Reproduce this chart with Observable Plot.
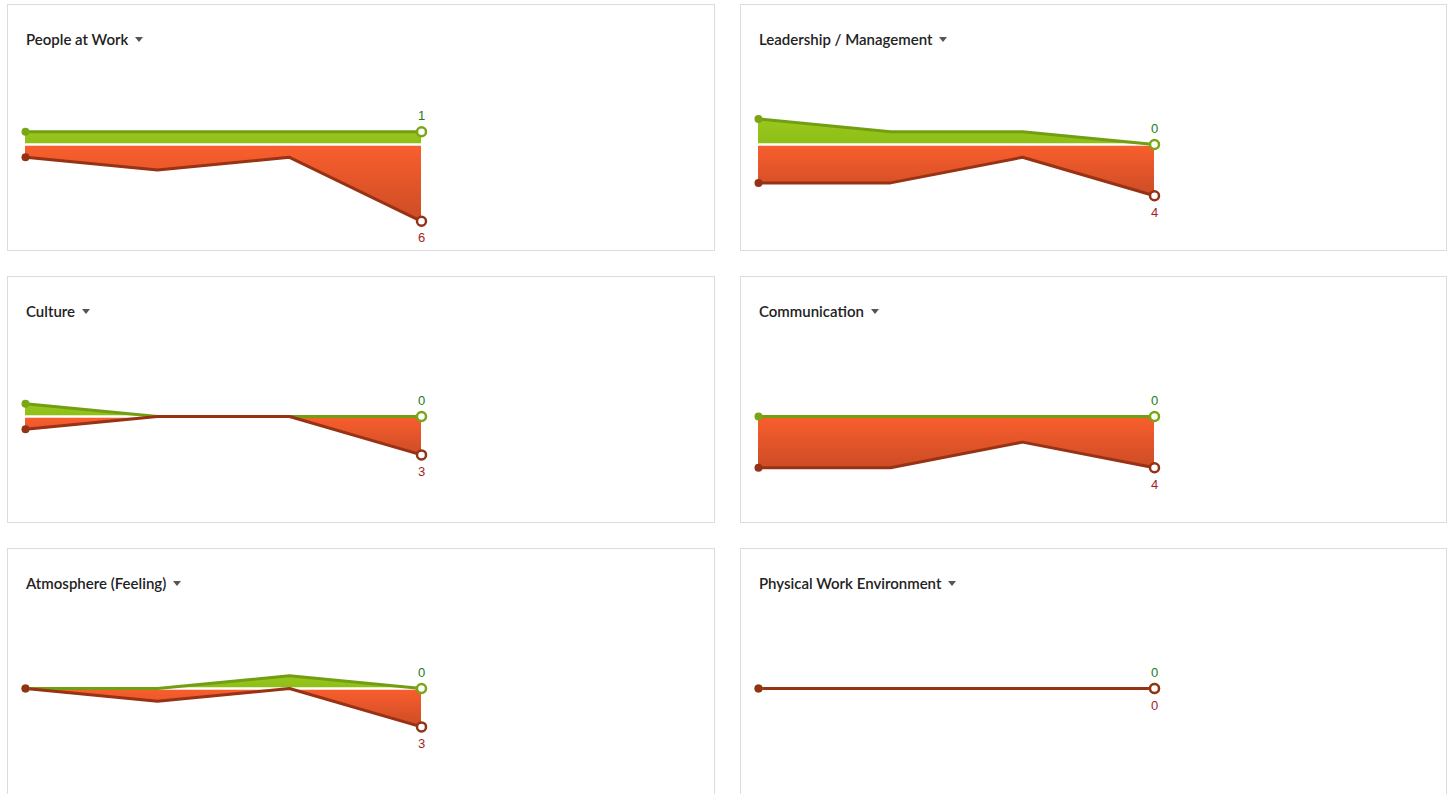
<!DOCTYPE html>
<html>
<head>
<meta charset="utf-8">
<script src="https://cdn.jsdelivr.net/npm/d3@7"></script>
<script src="https://cdn.jsdelivr.net/npm/@observablehq/plot@0.6"></script>
<style>
  html, body { margin: 0; padding: 0; background: #fff; }
  body { font-family: Lato, "Open Sans", sans-serif; }
  #page { position: relative; width: 1453px; height: 794px; overflow: hidden; }
  .panel { position: absolute; box-sizing: border-box; border: 1px solid #dcdcdc; background: #fff; height: 247px; overflow: hidden; }
  .title { position: absolute; left: 18px; top: 25px; line-height: 18px; font-size: 15px; font-weight: 600; color: #222; white-space: nowrap; }
  .caret { display: inline-block; width: 0; height: 0; border-left: 4.5px solid transparent; border-right: 4.5px solid transparent; border-top: 5px solid #555; margin-left: 7px; vertical-align: 3px; }
  .chart { position: absolute; left: 0; top: 60px; }
</style>
</head>
<body>
<svg width="0" height="0" style="position:absolute">
  <defs>
    <linearGradient id="gGreen" x1="0" y1="0" x2="0" y2="1">
      <stop offset="0" stop-color="#9ac71e"/>
      <stop offset="1" stop-color="#8dbf17"/>
    </linearGradient>
    <linearGradient id="gRed" x1="0" y1="0" x2="0" y2="1">
      <stop offset="0" stop-color="#fa5f2e"/>
      <stop offset="1" stop-color="#cd4c25"/>
    </linearGradient>
  </defs>
</svg>
<div id="page"></div>
<script>
const periods = ["P1", "P2", "P3", "P4"];
const categories = [
  "People at Work",
  "Leadership / Management",
  "Culture",
  "Communication",
  "Atmosphere (Feeling)",
  "Physical Work Environment"
];
const positive = [
  [1, 1, 1, 1],
  [2, 1, 1, 0],
  [1, 0, 0, 0],
  [0, 0, 0, 0],
  [0, 0, 1, 0],
  [0, 0, 0, 0]
];
const negative = [
  [1, 2, 1, 6],
  [3, 3, 1, 4],
  [1, 0, 0, 3],
  [4, 4, 2, 4],
  [0, 1, 0, 3],
  [0, 0, 0, 0]
];

const page = document.getElementById("page");
const colX = [7, 740];
const colW = [708, 707];
const rowY = [4, 276, 548];

categories.forEach((name, i) => {
  const col = i % 2, row = Math.floor(i / 2);
  const panel = document.createElement("div");
  panel.className = "panel";
  panel.style.left = colX[col] + "px";
  panel.style.top = rowY[row] + "px";
  panel.style.width = colW[col] + "px";
  const title = document.createElement("div");
  title.className = "title";
  title.textContent = name;
  const caret = document.createElement("span");
  caret.className = "caret";
  title.appendChild(caret);
  panel.appendChild(title);

  const rows = periods.map((p, j) => ({period: p, pos: positive[i][j], neg: -negative[i][j]}));
  const first = [rows[0]];
  const last = [rows[rows.length - 1]];
  const base = [{y: 0, a: periods[0], b: periods[periods.length - 1]}];

  const baseline = 79, unit = 12.8;
  const labelFont = "Liberation Sans, Arial, sans-serif";
  const chart = Plot.plot({
    width: 440,
    height: 185,
    margin: 0,
    x: {type: "point", domain: periods, range: [16, 414], padding: 0, axis: null},
    y: {domain: [-7, 4], range: [baseline + 7 * unit, baseline - 4 * unit], axis: null},
    style: {background: "transparent", overflow: "visible"},
    marks: [
      Plot.areaY(rows, {x: "period", y1: 0, y2: "pos", fill: "url(#gGreen)"}),
      Plot.areaY(rows, {x: "period", y1: 0, y2: "neg", fill: "url(#gRed)"}),
      Plot.ruleY(base, {y: "y", x1: "a", x2: "b", stroke: "#fff", strokeWidth: 2.5}),
      Plot.lineY(rows, {x: "period", y: "pos", stroke: "#729f12", strokeWidth: 3}),
      Plot.lineY(rows, {x: "period", y: "neg", stroke: "#973214", strokeWidth: 3}),
      Plot.dot(first, {x: "period", y: "pos", r: 4, fill: "#7aa514"}),
      Plot.dot(last, {x: "period", y: "pos", r: 4.5, fill: "#fff", stroke: "#7aa514", strokeWidth: 2.5}),
      Plot.dot(first, {x: "period", y: "neg", r: 4, fill: "#933215"}),
      Plot.dot(last, {x: "period", y: "neg", r: 4.5, fill: "#fff", stroke: "#933215", strokeWidth: 2.5}),
      Plot.text(last, {x: "period", y: "pos", text: d => String(d.pos), dy: -16, fill: "#217a21", fontSize: 13, fontFamily: labelFont}),
      Plot.text(last, {x: "period", y: "neg", text: d => String(-d.neg), dy: 17, fill: "#a31f1f", fontSize: 13, fontFamily: labelFont})
    ]
  });
  chart.classList.add("chart");
  panel.appendChild(chart);
  page.appendChild(panel);
});
</script>
</body>
</html>
